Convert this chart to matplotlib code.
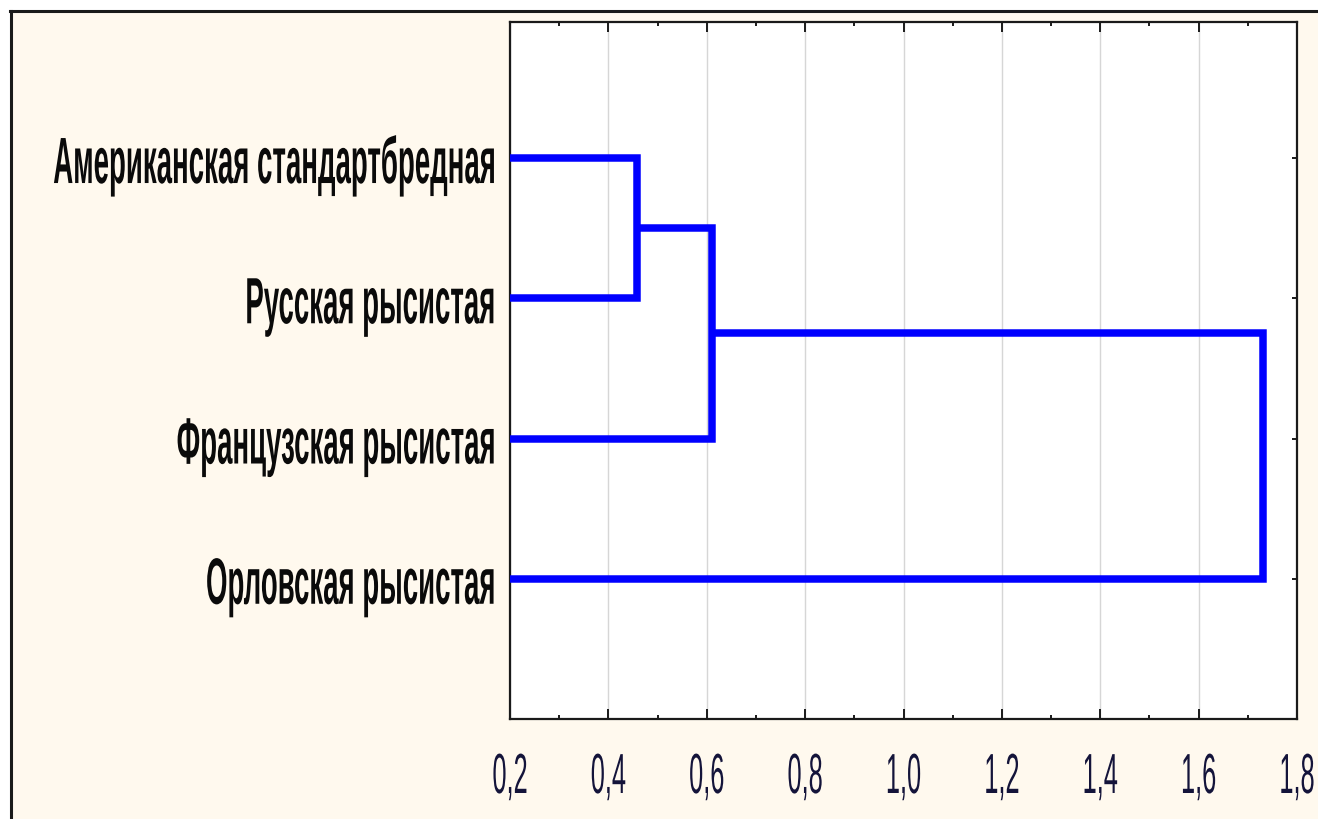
import matplotlib
matplotlib.use("Agg")
import matplotlib.pyplot as plt
from matplotlib import patheffects, font_manager
from matplotlib.transforms import Affine2D, blended_transform_factory, offset_copy
from matplotlib.textpath import TextPath
from matplotlib.ticker import MultipleLocator
from matplotlib.patches import Rectangle
from matplotlib.lines import Line2D

# ---- data -------------------------------------------------------------
leaf_labels = [
    "Американская стандартбредная",
    "Русская рысистая",
    "Французская рысистая",
    "Орловская рысистая",
]
# joins: indices < 4 are breeds, 4.. are clusters formed by earlier joins
join_left = [0, 4, 5]
join_right = [1, 2, 3]
join_dist = [0.458, 0.611, 1.731]

x_ticks = [0.2, 0.4, 0.6, 0.8, 1.0, 1.2, 1.4, 1.6, 1.8]
x_tick_labels = ["0,2", "0,4", "0,6", "0,8", "1,0", "1,2", "1,4", "1,6", "1,8"]

# ---- style ------------------------------------------------------------
DPI = 100
W, H = 1318, 819
cream = "#FFF9EE"
blue = "#0000FF"


def pick_family(*names):
    avail = {f.name for f in font_manager.fontManager.ttflist}
    for n in names:
        if n in avail:
            return n
    return "DejaVu Sans"


narrow = pick_family("Liberation Sans Narrow", "Arial Narrow", "Liberation Sans")


class VStretch(patheffects.AbstractPathEffect):
    """Draw glyph outlines stretched vertically about the baseline."""

    def __init__(self, sy):
        super().__init__()
        self.sy = sy

    def draw_path(self, renderer, gc, tpath, affine, rgbFace=None):
        renderer.draw_path(gc, tpath, Affine2D().scale(1.0, self.sy) + affine, rgbFace)


def fit_text(sample, ref_glyph, weight, width_px, height_px):
    """Font size (pt) giving the sample the wanted width, and the vertical stretch
    giving the reference glyph the wanted height."""
    fp = font_manager.FontProperties(family=narrow, weight=weight)
    w = TextPath((0, 0), sample, size=10, prop=fp).get_extents().width
    size = width_px * 72.0 / DPI * 10.0 / w
    h = TextPath((0, 0), ref_glyph, size=10, prop=fp).get_extents().height
    glyph_px = h * size / 10.0 * DPI / 72.0
    return size, height_px / glyph_px


fig = plt.figure(figsize=(W / DPI, H / DPI), dpi=DPI, facecolor="white")

# cream panel with a dark frame on its left and top edges
fig.patches.append(Rectangle((10 / W, 0), 1.0, (H - 11) / H, transform=fig.transFigure,
                             facecolor=cream, edgecolor="none", zorder=-10))
fig.lines.append(Line2D([10.5 / W, 10.5 / W], [0, (H - 11) / H], transform=fig.transFigure,
                        color="#1a1a1a", lw=2.2))
fig.lines.append(Line2D([10 / W, 1.0], [(H - 11) / H, (H - 11) / H], transform=fig.transFigure,
                        color="#1a1a1a", lw=2.2))

ax_l, ax_r, ax_t, ax_b = 510, 1297, 22, 719
ax = fig.add_axes([ax_l / W, (H - ax_b) / H, (ax_r - ax_l) / W, (ax_b - ax_t) / H])
ax.set_facecolor("white")

n = len(leaf_labels)
ypos = {i: i + 1.0 for i in range(n)}
height = {i: 0.0 for i in range(n)}
for k, (a, b, d) in enumerate(zip(join_left, join_right, join_dist)):
    ya, yb = ypos[a], ypos[b]
    ax.plot([height[a], d, d, height[b]], [ya, ya, yb, yb], color=blue, lw=5.4,
            solid_joinstyle="miter", solid_capstyle="butt", zorder=3)
    ypos[n + k] = (ya + yb) / 2.0
    height[n + k] = d

ax.set_xlim(0.2, 1.8)
ax.set_ylim(5.0, 0.03)

ax.xaxis.set_major_locator(MultipleLocator(0.2))
ax.xaxis.set_minor_locator(MultipleLocator(0.1))
ax.set_yticks(range(1, n + 1))
ax.tick_params(axis="x", which="major", direction="in", length=7.2, width=1.4,
               top=True, bottom=True, labelbottom=False, color="#1a1a1a")
ax.tick_params(axis="x", which="minor", direction="in", length=3.0, width=1.4,
               top=True, bottom=True, color="#1a1a1a")
ax.tick_params(axis="y", which="major", direction="in", length=3.6, width=1.4,
               left=True, right=True, labelleft=False, color="#1a1a1a")
ax.grid(axis="x", which="major", color="#d6d6d6", lw=1.0, zorder=0)
for s in ax.spines.values():
    s.set_linewidth(1.6)
    s.set_color("#1a1a1a")

# breed names to the left of the leaves
lab_size, lab_sy = fit_text(leaf_labels[0], "А", "bold", 440, 45)
lab_tr = offset_copy(blended_transform_factory(ax.transAxes, ax.transData), fig=fig,
                     x=-15, y=-25, units="dots")
for i, name in enumerate(leaf_labels):
    ax.text(0, ypos[i], name, transform=lab_tr, ha="right", va="baseline",
            family=narrow, weight="bold", fontsize=lab_size, color="#0a0a0a",
            clip_on=False, path_effects=[VStretch(lab_sy)])

# distance scale labels
tk_size, tk_sy = fit_text("0,2", "0", "normal", 33, 40)
tk_tr = offset_copy(blended_transform_factory(ax.transData, ax.transAxes), fig=fig,
                    x=0, y=-74, units="dots")
for xv, txt in zip(x_ticks, x_tick_labels):
    ax.text(xv, 0, txt, transform=tk_tr, ha="center", va="baseline",
            family=narrow, fontsize=tk_size, color="#14143a",
            clip_on=False, path_effects=[VStretch(tk_sy)])

fig.savefig("out.png", dpi=DPI, facecolor=fig.get_facecolor())
